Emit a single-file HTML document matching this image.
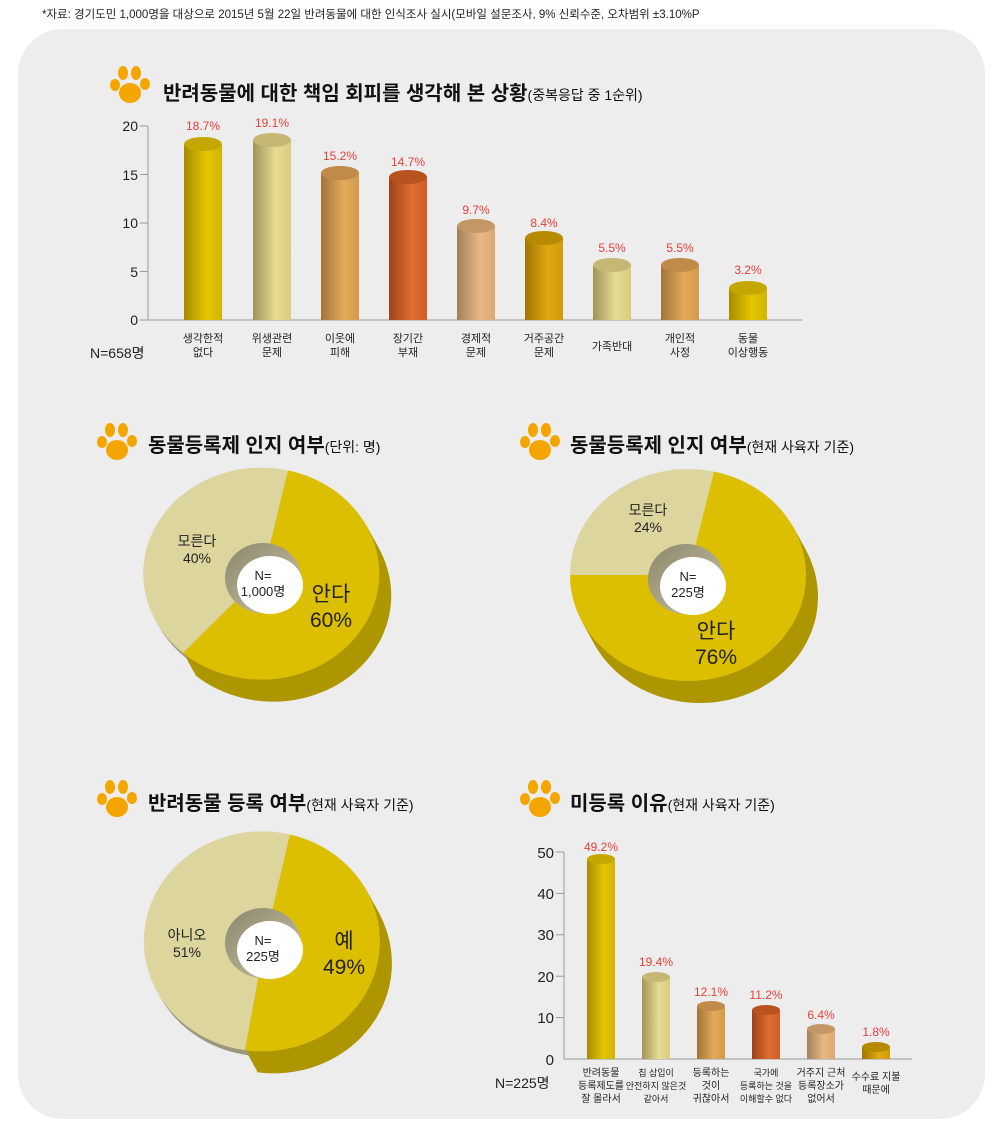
<!DOCTYPE html>
<html><head><meta charset="utf-8"><style>
html,body{margin:0;padding:0;background:#fff;}
svg{display:block;font-family:"Liberation Sans","Noto Sans CJK KR",sans-serif;}
</style></head><body>
<svg width="1000" height="1133" viewBox="0 0 1000 1133" xmlns="http://www.w3.org/2000/svg">
<defs>
<linearGradient id="gY"><stop offset="0" stop-color="#a68c00"/><stop offset=".6" stop-color="#e4c600"/><stop offset="1" stop-color="#d2b400"/></linearGradient>
<linearGradient id="gK"><stop offset="0" stop-color="#a09458"/><stop offset=".6" stop-color="#e6dc92"/><stop offset="1" stop-color="#d8cc80"/></linearGradient>
<linearGradient id="gT"><stop offset="0" stop-color="#a0743a"/><stop offset=".6" stop-color="#e2aa5c"/><stop offset="1" stop-color="#d49a4c"/></linearGradient>
<linearGradient id="gR"><stop offset="0" stop-color="#9e4218"/><stop offset=".6" stop-color="#e06c30"/><stop offset="1" stop-color="#d05e28"/></linearGradient>
<linearGradient id="gS"><stop offset="0" stop-color="#a0805a"/><stop offset=".6" stop-color="#e8b884"/><stop offset="1" stop-color="#dca874"/></linearGradient>
<linearGradient id="gG"><stop offset="0" stop-color="#a07400"/><stop offset=".6" stop-color="#e0a812"/><stop offset="1" stop-color="#d09a08"/></linearGradient>
<linearGradient id="hole" x1="0" y1="0" x2="1" y2="1"><stop offset="0" stop-color="#8c866c"/><stop offset="1" stop-color="#c9c3a6"/></linearGradient>
<g id="paw" fill="#f5a500">
<ellipse cx="0" cy="14" rx="11" ry="10"/><ellipse cx="-15" cy="6" rx="5" ry="6"/><ellipse cx="-7" cy="-6" rx="5" ry="7"/><ellipse cx="6" cy="-6" rx="5" ry="7"/><ellipse cx="15" cy="5" rx="5" ry="6"/>
</g>
<path id="p1L" d="M263,574 L288,470.4 A118,106 0 0 0 183,653 Z"/>
<path id="p1Y" d="M263,574 L288,470.4 A118,106 0 1 1 183,653 Z"/>
<path id="p2L" d="M688,575 L714,471.6 A118,106 0 0 0 570,575 Z"/>
<path id="p2Y" d="M688,575 L714,471.6 A118,106 0 1 1 570,575 Z"/>
<path id="p3L" d="M265,942 L290,834.5 A118,110 0 1 0 245,1050.2 Z"/>
<path id="p3Y" d="M265,942 L290,834.5 A118,110 0 0 1 245,1050.2 Z"/>
<g id="ex1">
<use href="#p1Y" x="12" y="22"/><use href="#p1Y" x="11" y="20"/><use href="#p1Y" x="10" y="18"/><use href="#p1Y" x="9" y="16.5"/><use href="#p1Y" x="8" y="14.7"/><use href="#p1Y" x="7" y="12.8"/><use href="#p1Y" x="6" y="11"/><use href="#p1Y" x="5" y="9.2"/><use href="#p1Y" x="4" y="7.3"/><use href="#p1Y" x="3" y="5.5"/><use href="#p1Y" x="2" y="3.7"/><use href="#p1Y" x="1" y="1.8"/>
</g>
<g id="ex2">
<use href="#p2Y" x="12" y="22"/><use href="#p2Y" x="11" y="20"/><use href="#p2Y" x="10" y="18"/><use href="#p2Y" x="9" y="16.5"/><use href="#p2Y" x="8" y="14.7"/><use href="#p2Y" x="7" y="12.8"/><use href="#p2Y" x="6" y="11"/><use href="#p2Y" x="5" y="9.2"/><use href="#p2Y" x="4" y="7.3"/><use href="#p2Y" x="3" y="5.5"/><use href="#p2Y" x="2" y="3.7"/><use href="#p2Y" x="1" y="1.8"/>
</g>
<g id="ex3">
<use href="#p3Y" x="12" y="22"/><use href="#p3Y" x="11" y="20"/><use href="#p3Y" x="10" y="18"/><use href="#p3Y" x="9" y="16.5"/><use href="#p3Y" x="8" y="14.7"/><use href="#p3Y" x="7" y="12.8"/><use href="#p3Y" x="6" y="11"/><use href="#p3Y" x="5" y="9.2"/><use href="#p3Y" x="4" y="7.3"/><use href="#p3Y" x="3" y="5.5"/><use href="#p3Y" x="2" y="3.7"/><use href="#p3Y" x="1" y="1.8"/>
</g>
</defs>

<text x="42" y="18" font-size="11.5" fill="#222">*자료: 경기도민 1,000명을 대상으로 2015년 5월 22일 반려동물에 대한 인식조사 실시(모바일 설문조사, 9% 신뢰수준, 오차범위 ±3.10%P</text>
<rect x="18" y="29" width="967" height="1090" rx="45" fill="#ededed"/>

<!-- Top chart -->
<use href="#paw" x="130" y="79"/>
<text x="163" y="100" font-size="20" font-weight="bold" fill="#111">반려동물에 대한 책임 회피를 생각해 본 상황<tspan font-size="14" font-weight="normal">(중복응답 중 1순위)</tspan></text>
<g stroke="#999" stroke-width="1">
<line x1="148" y1="126" x2="148" y2="320"/><line x1="148" y1="320" x2="802" y2="320"/>
<line x1="140" y1="126" x2="148" y2="126"/><line x1="140" y1="174.5" x2="148" y2="174.5"/><line x1="140" y1="223" x2="148" y2="223"/><line x1="140" y1="271.5" x2="148" y2="271.5"/><line x1="140" y1="320" x2="148" y2="320"/>
</g>
<g font-size="14" fill="#222" text-anchor="end">
<text x="138" y="131">20</text><text x="138" y="180">15</text><text x="138" y="228">10</text><text x="138" y="277">5</text><text x="138" y="325">0</text>
</g>
<text x="90" y="358" font-size="14" fill="#222">N=658명</text>

<g>
<rect x="184" y="144" width="38" height="176" fill="url(#gY)"/><ellipse cx="203" cy="144" rx="19" ry="7" fill="#c4a800"/>
<rect x="253" y="140" width="38" height="180" fill="url(#gK)"/><ellipse cx="272" cy="140" rx="19" ry="7" fill="#c4b874"/>
<rect x="321" y="173" width="38" height="147" fill="url(#gT)"/><ellipse cx="340" cy="173" rx="19" ry="7" fill="#c08a48"/>
<rect x="389" y="177" width="38" height="143" fill="url(#gR)"/><ellipse cx="408" cy="177" rx="19" ry="7" fill="#b8521f"/>
<rect x="457" y="226" width="38" height="94" fill="url(#gS)"/><ellipse cx="476" cy="226" rx="19" ry="7" fill="#c49866"/>
<rect x="525" y="238" width="38" height="82" fill="url(#gG)"/><ellipse cx="544" cy="238" rx="19" ry="7" fill="#b88a00"/>
<rect x="593" y="265" width="38" height="55" fill="url(#gK)"/><ellipse cx="612" cy="265" rx="19" ry="7" fill="#c4b874"/>
<rect x="661" y="265" width="38" height="55" fill="url(#gT)"/><ellipse cx="680" cy="265" rx="19" ry="7" fill="#c08a48"/>
<rect x="729" y="288" width="38" height="32" fill="url(#gY)"/><ellipse cx="748" cy="288" rx="19" ry="7" fill="#c4a800"/>
</g>
<g font-size="12" fill="#e8403a" text-anchor="middle">
<text x="203" y="130">18.7%</text><text x="272" y="127">19.1%</text><text x="340" y="160">15.2%</text><text x="408" y="166">14.7%</text><text x="476" y="214">9.7%</text><text x="544" y="227">8.4%</text><text x="612" y="252">5.5%</text><text x="680" y="252">5.5%</text><text x="748" y="274">3.2%</text>
</g>
<g font-size="11" fill="#222" text-anchor="middle">
<text x="203" y="342">생각한적</text><text x="203" y="356">없다</text>
<text x="272" y="342">위생관련</text><text x="272" y="356">문제</text>
<text x="340" y="342">이웃에</text><text x="340" y="356">피해</text>
<text x="408" y="342">장기간</text><text x="408" y="356">부재</text>
<text x="476" y="342">경제적</text><text x="476" y="356">문제</text>
<text x="544" y="342">거주공간</text><text x="544" y="356">문제</text>
<text x="612" y="350">가족반대</text>
<text x="680" y="342">개인적</text><text x="680" y="356">사정</text>
<text x="748" y="342">동물</text><text x="748" y="356">이상행동</text>
</g>

<!-- Pie 1 -->
<use href="#paw" x="117" y="436"/>
<text x="148" y="452" font-size="20" font-weight="bold" fill="#111">동물등록제 인지 여부<tspan font-size="14" font-weight="normal">(단위: 명)</tspan></text>
<g>
<use href="#ex1" fill="#ae9600"/>
<use href="#p1L" fill="#a09a80" x="3" y="5"/>
<use href="#p1L" fill="#dcd59e"/><use href="#p1Y" fill="#dcbf00"/>
<ellipse cx="263" cy="578" rx="38" ry="35" fill="url(#hole)"/><ellipse cx="270" cy="585" rx="33" ry="29" fill="#fff"/>
</g>
<g text-anchor="middle" fill="#222">
<text x="263" y="580" font-size="13">N=</text><text x="263" y="596" font-size="13">1,000명</text>
<text x="197" y="546" font-size="14">모른다</text><text x="197" y="563" font-size="14">40%</text>
<text x="331" y="601" font-size="21">안다</text><text x="331" y="627" font-size="21">60%</text>
</g>

<!-- Pie 2 -->
<use href="#paw" x="540" y="436"/>
<text x="570" y="452" font-size="20" font-weight="bold" fill="#111">동물등록제 인지 여부<tspan font-size="14" font-weight="normal">(현재 사육자 기준)</tspan></text>
<g>
<use href="#ex2" fill="#ae9600"/>
<use href="#p2L" fill="#dcd59e"/><use href="#p2Y" fill="#dcbf00"/>
<ellipse cx="686" cy="579" rx="38" ry="35" fill="url(#hole)"/><ellipse cx="693" cy="586" rx="33" ry="29" fill="#fff"/>
</g>
<g text-anchor="middle" fill="#222">
<text x="688" y="581" font-size="13">N=</text><text x="688" y="597" font-size="13">225명</text>
<text x="648" y="515" font-size="14">모른다</text><text x="648" y="532" font-size="14">24%</text>
<text x="716" y="638" font-size="21">안다</text><text x="716" y="664" font-size="21">76%</text>
</g>

<!-- Pie 3 -->
<use href="#paw" x="117" y="793"/>
<text x="148" y="810" font-size="20" font-weight="bold" fill="#111">반려동물 등록 여부<tspan font-size="14" font-weight="normal">(현재 사육자 기준)</tspan></text>
<g>
<use href="#ex3" fill="#ae9600"/>
<use href="#p3L" fill="#9c967c" x="3" y="5"/>
<use href="#p3L" fill="#dcd59e"/><use href="#p3Y" fill="#dcbf00"/>
<ellipse cx="263" cy="943" rx="38" ry="35" fill="url(#hole)"/><ellipse cx="270" cy="950" rx="33" ry="29" fill="#fff"/>
</g>
<g text-anchor="middle" fill="#222">
<text x="263" y="945" font-size="13">N=</text><text x="263" y="961" font-size="13">225명</text>
<text x="187" y="940" font-size="14">아니오</text><text x="187" y="957" font-size="14">51%</text>
<text x="344" y="948" font-size="21">예</text><text x="344" y="974" font-size="21">49%</text>
</g>

<!-- Bottom right chart -->
<use href="#paw" x="540" y="793"/>
<text x="570" y="810" font-size="20" font-weight="bold" fill="#111">미등록 이유<tspan font-size="14" font-weight="normal">(현재 사육자 기준)</tspan></text>
<g stroke="#999" stroke-width="1">
<line x1="564" y1="852" x2="564" y2="1059"/><line x1="564" y1="1059" x2="912" y2="1059"/>
<line x1="556" y1="852" x2="564" y2="852"/><line x1="556" y1="893.4" x2="564" y2="893.4"/><line x1="556" y1="934.8" x2="564" y2="934.8"/><line x1="556" y1="976.2" x2="564" y2="976.2"/><line x1="556" y1="1017.6" x2="564" y2="1017.6"/>
</g>
<g font-size="15" fill="#222" text-anchor="end">
<text x="554" y="858">50</text><text x="554" y="899">40</text><text x="554" y="940">30</text><text x="554" y="982">20</text><text x="554" y="1023">10</text><text x="554" y="1065">0</text>
</g>
<text x="495" y="1088" font-size="14" fill="#222">N=225명</text>
<g>
<rect x="587" y="859" width="28" height="200" fill="url(#gY)"/><ellipse cx="601" cy="859" rx="14" ry="5" fill="#c4a800"/>
<rect x="642" y="977" width="28" height="82" fill="url(#gK)"/><ellipse cx="656" cy="977" rx="14" ry="5" fill="#c4b874"/>
<rect x="697" y="1006" width="28" height="53" fill="url(#gT)"/><ellipse cx="711" cy="1006" rx="14" ry="5" fill="#c08a48"/>
<rect x="752" y="1010" width="28" height="49" fill="url(#gR)"/><ellipse cx="766" cy="1010" rx="14" ry="5" fill="#b8521f"/>
<rect x="807" y="1029" width="28" height="30" fill="url(#gS)"/><ellipse cx="821" cy="1029" rx="14" ry="5" fill="#c49866"/>
<rect x="862" y="1047" width="28" height="12" fill="url(#gG)"/><ellipse cx="876" cy="1047" rx="14" ry="5" fill="#b88a00"/>
</g>
<g font-size="12" fill="#e8403a" text-anchor="middle">
<text x="601" y="851">49.2%</text><text x="656" y="966">19.4%</text><text x="711" y="996">12.1%</text><text x="766" y="999">11.2%</text><text x="821" y="1019">6.4%</text><text x="876" y="1036">1.8%</text>
</g>
<g font-size="10" fill="#222" text-anchor="middle">
<text x="601" y="1076">반려동물</text><text x="601" y="1089">등록제도를</text><text x="601" y="1102">잘 몰라서</text>
<text x="656" y="1076" font-size="9">칩 삽입이</text><text x="656" y="1089" font-size="9">안전하지 않은것</text><text x="656" y="1102" font-size="9">같아서</text>
<text x="711" y="1076">등록하는</text><text x="711" y="1089">것이</text><text x="711" y="1102">귀찮아서</text>
<text x="766" y="1076" font-size="9">국가에</text><text x="766" y="1089" font-size="9">등록하는 것을</text><text x="766" y="1102" font-size="9">이해할수 없다</text>
<text x="821" y="1076">거주지 근처</text><text x="821" y="1089">등록장소가</text><text x="821" y="1102">없어서</text>
<text x="876" y="1080">수수료 지불</text><text x="876" y="1093">때문에</text>
</g>
</svg>
</body></html>
